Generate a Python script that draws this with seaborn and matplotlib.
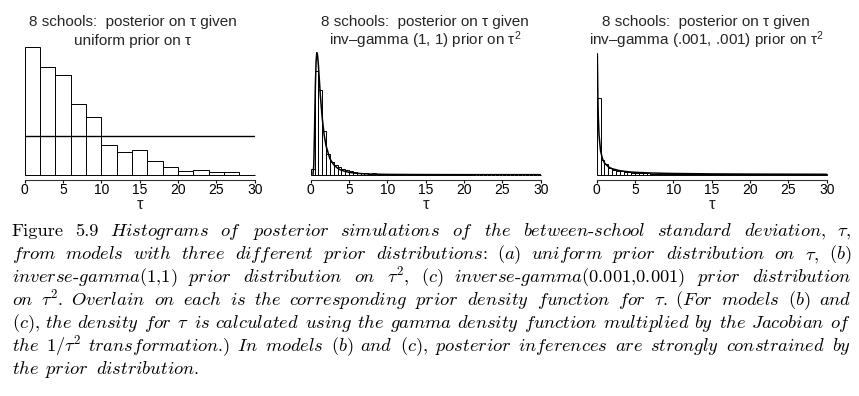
import re
import numpy as np
import pandas as pd
import matplotlib
matplotlib.use("Agg")
import matplotlib.pyplot as plt
import seaborn as sns

W, H = 859, 396

# (a) uniform prior on tau: bins of width 2, heights
unif_edges = [0, 2, 4, 6, 8, 10, 12, 14, 16, 18, 20, 22, 24, 26, 28, 30]
unif_heights = [127.3, 107.3, 100, 70.7, 57.3, 29.3, 23, 25, 14, 7.3, 3.3, 4.3, 2.3, 3, 0]
unif_prior_x = [0, 30]
unif_prior_y = [38.3, 38.3]

# (b) inv-gamma(1,1) prior on tau^2: bins of width 0.5
ig1_heights = [5.5, 104, 85, 44, 21, 12.5, 9.5, 8, 6, 4.5,
               3.3, 2.5, 2, 1.6, 1.3, 1.1, 1.5, 0.9, 0.7, 0.6,
               0.5, 0.5, 0.4, 0.4, 0.4, 0.3, 0.3, 0.3, 0.3, 0.3,
               0.3, 0.2, 0.2, 0.2, 0.2, 0.2, 0.2, 0.2, 0.2, 0.2,
               0.2, 0.2, 0.1, 0.1, 0.1, 0.1, 0.1, 0.1, 0.1, 0.1,
               0.1, 0.1, 0.1, 0.1, 0.1, 0.1, 0.1, 0.1, 0.1, 0.1]
ig1_prior_x = [0.3, 0.4, 0.5, 0.6, 0.7, 0.8, 0.9, 1.0, 1.25, 1.5, 1.75, 2, 2.5, 3,
               3.5, 4, 5, 6, 7, 8, 10, 15, 20, 30]
ig1_prior_y = [0.2, 9, 44, 86, 113, 122, 119, 110, 80, 57, 40, 29, 16, 10,
               6.5, 4.4, 2.3, 1.4, 0.9, 0.6, 0.3, 0.1, 0.04, 0.01]

# (c) inv-gamma(.001,.001) prior on tau^2: bins of width 0.5
ig001_heights = [77, 15, 10.5, 7, 5, 4, 3.3, 2.8, 2.3, 2,
                 1.7, 1.5, 1.3, 1.2, 1.1, 1.0, 0.9, 0.9, 0.8, 0.8,
                 0.7, 0.7, 0.7, 0.6, 0.6, 0.6, 0.6, 0.5, 0.5, 0.5,
                 0.5, 0.5, 0.5, 0.5, 0.4, 0.4, 0.4, 0.4, 0.4, 0.4,
                 0.4, 0.4, 0.3, 0.3, 0.3, 0.3, 0.3, 0.3, 0.3, 0.3,
                 0.3, 0.3, 0.3, 0.3, 0.3, 0.3, 0.3, 0.3, 0.3, 0.3]
ig001_prior_x = [0.08, 0.1, 0.15, 0.2, 0.3, 0.5, 0.75, 1, 1.5, 2, 3, 4, 5, 7, 10, 15, 20, 30]
ig001_prior_y = [121, 110, 79, 60, 40, 24, 16, 12, 8, 6, 4, 3, 2.4, 1.7, 1.2, 0.8, 0.6, 0.4]

fine_edges = [float(v) for v in np.arange(0, 30.01, 0.5)]

titles = [
    ("8 schools:  posterior on τ given", "uniform prior on τ", 132.5),
    ("8 schools:  posterior on τ given", "inv–gamma (1, 1) prior on τ$^{2}$", 425),
    ("8 schools:  posterior on τ given", "inv–gamma (.001, .001) prior on τ$^{2}$", 706),
]

caption_lines = [
    "Figure 5.9 Histograms of posterior simulations of the between-school standard deviation, τ,",
    "from models with three different prior distributions: (a) uniform prior distribution on τ, (b)",
    "inverse-gamma(1,1) prior distribution on τ², (c) inverse-gamma(0.001,0.001) prior distribution",
    "on τ². Overlain on each is the corresponding prior density function for τ. (For models (b) and",
    "(c), the density for τ is calculated using the gamma density function multiplied by the Jacobian of",
    "the 1/τ² transformation.) In models (b) and (c), posterior inferences are strongly constrained by",
    "the prior distribution.",
]

sns.set_theme(style="white")
plt.rcParams["font.family"] = ["Liberation Sans", "DejaVu Sans"]
plt.rcParams["mathtext.fontset"] = "custom"
plt.rcParams["mathtext.rm"] = "Liberation Sans"
plt.rcParams["mathtext.it"] = "Liberation Sans:italic"

fig = plt.figure(figsize=(W / 100, H / 100), dpi=100)


def add_panel(left_px):
    ax = fig.add_axes([left_px / W, 1 - 174.7 / H, 230 / W, (174.7 - 47.3) / H])
    return ax


def style_panel(ax):
    ax.set_xlim(0, 30)
    ax.set_ylim(0, 127.4)
    for s in ["left", "right", "top"]:
        ax.spines[s].set_visible(False)
    ax.spines["bottom"].set_position(("outward", 3.6))
    ax.spines["bottom"].set_color("#333333")
    ax.spines["bottom"].set_linewidth(0.8)
    ax.set_xticks([0, 5, 10, 15, 20, 25, 30])
    ax.set_yticks([])
    ax.tick_params(axis="x", bottom=True, direction="out", length=2, width=0.8,
                   pad=0.5, labelsize=10, colors="black")
    ax.set_xlabel("τ", fontsize=12, labelpad=0)
    ax.set_ylabel("")


def draw_hist(ax, edges, heights):
    centers = [(a + b) / 2 for a, b in zip(edges[:-1], edges[1:])]
    df = pd.DataFrame({"tau": centers, "h": heights})
    sns.histplot(data=df, x="tau", weights="h", bins=list(edges), ax=ax, stat="count",
                 color="white", edgecolor="black", linewidth=0.7, alpha=1)
    for p in ax.patches:
        p.set_clip_on(False)


ax1 = add_panel(24.7)
draw_hist(ax1, unif_edges, unif_heights)
sns.lineplot(x=unif_prior_x, y=unif_prior_y, ax=ax1, color="black", linewidth=1.0)

ax2 = add_panel(310.7)
draw_hist(ax2, fine_edges, ig1_heights)
sns.lineplot(x=ig1_prior_x, y=ig1_prior_y, ax=ax2, color="black", linewidth=1.1)

ax3 = add_panel(596.7)
draw_hist(ax3, fine_edges, ig001_heights)
sns.lineplot(x=ig001_prior_x, y=ig001_prior_y, ax=ax3, color="black", linewidth=1.1)

for ax in (ax1, ax2, ax3):
    style_panel(ax)

for l1, l2, cx in titles:
    fig.text(cx / W, 1 - 26 / H, l1, ha="center", va="baseline", fontsize=11)
    fig.text(cx / W, 1 - 45 / H, l2, ha="center", va="baseline", fontsize=11)


# caption, justified between the left and right text edges
def to_tex(word, upright):
    if upright:
        return word
    w = re.sub(r"[A-Za-z]+", lambda m: r"$\mathit{" + m.group(0) + "}$", word)
    w = w.replace("τ²", r"$\tau^2$").replace("τ", r"$\tau$")
    return w


renderer = fig.canvas.get_renderer()
left_px, right_px = 11.5, 851
base0, step = 236, 23.05
fs = 13.3
for i, line in enumerate(caption_lines):
    words = line.split(" ")
    texts = []
    for j, w in enumerate(words):
        upright = (i == 0 and j < 2)
        t = fig.text(0, 1 - (base0 + i * step) / H, to_tex(w, upright),
                     fontfamily="cmr10", math_fontfamily="cm", fontsize=fs,
                     ha="left", va="baseline", color="black")
        texts.append(t)
    widths = [t.get_window_extent(renderer).width for t in texts]
    if i < len(caption_lines) - 1:
        gap = (right_px - left_px - sum(widths)) / (len(texts) - 1)
    else:
        gap = fs * 100 / 72 * 0.36
    x = left_px
    for t, wdt in zip(texts, widths):
        t.set_x(x / W)
        x += wdt + gap

fig.savefig("out.png", dpi=100)
